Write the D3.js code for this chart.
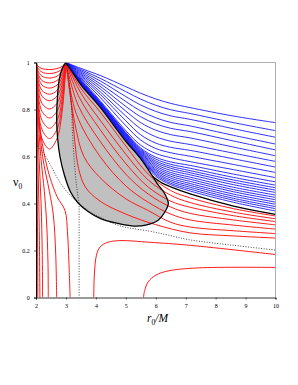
<!DOCTYPE html>
<html>
<head>
<meta charset="utf-8">
<title>r0 - v0 plane</title>
<style>
  body { margin: 0; background: #fff; }
  .tick text { font-family: "Liberation Serif", serif; font-size: 6px; }
</style>
</head>
<body>
<div id="chart"></div>
<script src="https://d3js.org/d3.v7.min.js"></script>
<script>
var xTicks = [2, 3, 4, 5, 6, 7, 8, 9, 10];
var yTicks = [0, 0.2, 0.4, 0.6, 0.8, 1];
var yTickLabels = ["0", "0.2", "0.4", "0.6", "0.8", "1"];

// r positions where the blue curves were read
var blueR = [3, 3.5, 4.14, 5, 5.5, 6, 6.5, 7.15, 8.6, 10];
// blue curves: v at each blueR, cusp (3,1) -> right edge
var blueV = [
  [1, 0.975, 0.945, 0.897, 0.869, 0.845, 0.826, 0.808, 0.772, 0.744],
  [1, 0.97, 0.933, 0.876, 0.844, 0.818, 0.799, 0.783, 0.744, 0.71],
  [1, 0.965, 0.922, 0.855, 0.819, 0.792, 0.773, 0.758, 0.718, 0.682],
  [1, 0.96, 0.91, 0.834, 0.794, 0.765, 0.745, 0.73, 0.69, 0.653],
  [1, 0.955, 0.899, 0.813, 0.769, 0.739, 0.72, 0.706, 0.666, 0.628],
  [1, 0.95, 0.888, 0.793, 0.744, 0.712, 0.693, 0.679, 0.64, 0.603],
  [1, 0.945, 0.876, 0.772, 0.718, 0.684, 0.665, 0.651, 0.614, 0.579],
  [1, 0.94, 0.865, 0.752, 0.692, 0.657, 0.639, 0.626, 0.59, 0.555],
  [1, 0.935, 0.852, 0.731, 0.67, 0.634, 0.616, 0.601, 0.566, 0.532],
  [1, 0.93, 0.838, 0.71, 0.648, 0.613, 0.595, 0.578, 0.544, 0.51],
  [1, 0.925, 0.833, 0.702, 0.636, 0.597, 0.577, 0.562, 0.525, 0.492],
  [1, 0.923, 0.831, 0.699, 0.631, 0.589, 0.567, 0.55, 0.511, 0.478],
  [1, 0.921, 0.829, 0.696, 0.627, 0.581, 0.558, 0.54, 0.5, 0.467],
  [1, 0.919, 0.827, 0.693, 0.623, 0.574, 0.55, 0.531, 0.49, 0.457],
  [1, 0.917, 0.825, 0.69, 0.619, 0.567, 0.541, 0.522, 0.48, 0.447],
  [1, 0.916, 0.823, 0.687, 0.615, 0.56, 0.532, 0.512, 0.469, 0.436],
  [1, 0.915, 0.822, 0.684, 0.611, 0.553, 0.524, 0.503, 0.459, 0.426],
  [1, 0.914, 0.82, 0.681, 0.607, 0.546, 0.516, 0.494, 0.45, 0.416],
  [1, 0.913, 0.819, 0.678, 0.603, 0.54, 0.508, 0.485, 0.44, 0.406],
  [1, 0.912, 0.818, 0.676, 0.6, 0.534, 0.5, 0.477, 0.431, 0.397],
  [1, 0.911, 0.817, 0.674, 0.597, 0.528, 0.493, 0.469, 0.422, 0.387],
  [1, 0.91, 0.816, 0.672, 0.594, 0.522, 0.486, 0.461, 0.414, 0.378],
  [1, 0.909, 0.815, 0.67, 0.591, 0.516, 0.48, 0.453, 0.405, 0.368]
];

// red curves: cusp (3,1) -> right edge, through the grey lobe
var redFromCusp = [
  [[3,1],[3.5,0.89],[4.14,0.79],[5,0.645],[5.75,0.525],[6.5,0.455],[7.15,0.424],[8.6,0.378],[10,0.347]],
  [[3,1],[3.5,0.87],[4.14,0.755],[5,0.61],[5.75,0.5],[6.5,0.435],[7.15,0.404],[8.6,0.363],[10,0.335]],
  [[3,1],[3.45,0.85],[4.14,0.715],[5,0.57],[5.75,0.47],[6.5,0.41],[7.15,0.384],[8.6,0.348],[10,0.323]],
  [[3,1],[3.4,0.82],[4.14,0.665],[5,0.525],[5.75,0.44],[6.5,0.385],[7.15,0.358],[8.6,0.33],[10,0.309]],
  [[3,1],[3.35,0.78],[4.14,0.6],[5,0.475],[5.75,0.405],[6.5,0.355],[7.15,0.33],[8.6,0.308],[10,0.291]],
  [[3,1],[3.3,0.74],[3.6,0.6],[4.14,0.51],[5,0.42],[5.75,0.37],[6.5,0.32],[7.15,0.3],[8.6,0.284],[10,0.272]],
  [[3,1],[3.2,0.8],[3.3,0.66],[3.42,0.55],[3.65,0.47],[4.14,0.41],[5,0.355],[6,0.31],[7.15,0.275],[8.6,0.262],[10,0.253]]
];

// red loops: top-left corner -> cusp
var redLoops = [
  [[2.01,1],[2.06,0.985],[2.2,0.974],[2.45,0.97],[2.7,0.974],[2.88,0.984],[3,1]],
  [[2.01,1],[2.06,0.977],[2.2,0.959],[2.45,0.953],[2.7,0.959],[2.88,0.974],[3,1]],
  [[2.01,1],[2.06,0.967],[2.2,0.942],[2.45,0.934],[2.7,0.942],[2.88,0.964],[3,1]],
  [[2.01,1],[2.06,0.957],[2.2,0.923],[2.45,0.913],[2.7,0.923],[2.88,0.952],[3,1]],
  [[2.01,1],[2.06,0.946],[2.2,0.904],[2.45,0.891],[2.7,0.904],[2.88,0.94],[3,1]],
  [[2.01,1],[2.06,0.933],[2.2,0.881],[2.45,0.865],[2.7,0.881],[2.88,0.926],[3,1]],
  [[2.01,1],[2.06,0.919],[2.2,0.857],[2.45,0.837],[2.7,0.857],[2.88,0.91],[3,1]],
  [[2.01,1],[2.06,0.901],[2.2,0.826],[2.45,0.802],[2.7,0.826],[2.88,0.891],[3,1]],
  [[2.01,1],[2.06,0.882],[2.2,0.792],[2.45,0.764],[2.7,0.792],[2.88,0.87],[3,1]],
  [[2.01,1],[2.06,0.86],[2.2,0.754],[2.45,0.72],[2.7,0.754],[2.88,0.846],[3,1]],
  [[2.01,1],[2.06,0.838],[2.2,0.715],[2.45,0.676],[2.7,0.715],[2.88,0.822],[3,1]],
  [[2.01,1],[2.06,0.816],[2.2,0.676],[2.45,0.632],[2.7,0.676],[2.88,0.798],[3,1]]
];

// red curves: top-left corner -> bottom axis
var redToAxis = [
  [[2.003,1],[2.015,0.8],[2.035,0.5],[2.055,0.2],[2.06,0]],
  [[2.005,1],[2.03,0.8],[2.07,0.55],[2.11,0.28],[2.13,0]],
  [[2.01,1],[2.04,0.8],[2.1,0.6],[2.17,0.4],[2.21,0.18],[2.22,0]],
  [[2.015,1],[2.06,0.8],[2.16,0.6],[2.28,0.45],[2.35,0.33],[2.4,0.15],[2.41,0]],
  [[2.02,1],[2.08,0.8],[2.22,0.6],[2.45,0.45],[2.58,0.35],[2.66,0.18],[2.69,0]],
  [[2.02,1],[2.1,0.76],[2.36,0.56],[2.7,0.43],[2.97,0.37],[3.05,0.28],[3.1,0.15],[3.14,0]]
];

// red curves: bottom axis -> right edge
var redFromAxis = [
  [[3.93,0],[3.95,0.1],[4.02,0.18],[4.14,0.215],[4.4,0.235],[4.8,0.242],[5.8,0.235],[7.15,0.222],[10,0.183]],
  [[5.59,0],[5.63,0.03],[5.75,0.067],[6,0.095],[6.41,0.113],[7.42,0.126],[10,0.128]]
];

// grey lobe outline
var lobeBoundary = [[3,1],[3.2,0.962],[3.5,0.905],[4.14,0.81],[5,0.665],[5.5,0.59],[5.9,0.515],[6.04,0.486],
  [6.26,0.45],[6.38,0.42],[6.42,0.4],[6.31,0.365],[6.09,0.33],[5.7,0.309],[5.25,0.304],[4.7,0.316],
  [4.14,0.337],[3.75,0.365],[3.4,0.403],[3.15,0.45],[2.95,0.52],[2.8,0.6],[2.72,0.68],[2.69,0.76],
  [2.72,0.86],[2.78,0.93],[2.88,0.975],[3,1]];

// black curve from the lobe to the right edge
var circularOrbit = [[5.9,0.515],[6.2,0.488],[6.5,0.471],[7.15,0.441],[8.6,0.389],[10,0.354]];

// dotted separatrix branches
var sepUp = [[3,1],[3.1,0.93],[3.18,0.82],[3.22,0.7],[3.28,0.58],[3.36,0.47],[3.44,0.4]];
var sepLeft = [[3.44,0.4],[3,0.455],[2.75,0.5],[2.5,0.56],[2.3,0.605],[2.15,0.63],[2.05,0.645]];
var sepRight = [[3.44,0.4],[3.8,0.365],[4.14,0.342],[4.8,0.305],[5.8,0.282],[6.4,0.266],[7.15,0.245],[8.6,0.222],[10,0.202]];
var sepDown = [[3.44,0.4],[3.44,0]];

var horizon = [[2,0],[2,1]];

var blueCurves = blueV.map(function(vs) {
  return vs.map(function(v, i) { return [blueR[i], v]; });
});

var width = 298, height = 385;
var svg = d3.select('#chart').append('svg')
  .attr('width', width)
  .attr('height', height);

var x = d3.scaleLinear().domain([2, 10]).range([36, 275.5]);
var y = d3.scaleLinear().domain([0, 1]).range([297.5, 62.5]);

svg.append('clipPath').attr('id', 'clip')
  .append('rect')
  .attr('x', x(2)).attr('y', y(1))
  .attr('width', x(10) - x(2)).attr('height', y(0) - y(1));

var line = d3.line()
  .x(function(d) { return x(d[0]); })
  .y(function(d) { return y(d[1]); })
  .curve(d3.curveCatmullRom.alpha(0.5));

var plot = svg.append('g').attr('clip-path', 'url(#clip)');

plot.append('path')
  .attr('d', line(lobeBoundary))
  .attr('fill', '#c0c0c0')
  .attr('stroke', 'none');

function drawSet(data, color, w) {
  plot.append('g').selectAll('path')
    .data(data)
    .enter()
    .append('path')
    .attr('d', line)
    .attr('fill', 'none')
    .attr('stroke', color)
    .attr('stroke-width', w);
}

drawSet(redLoops, '#ff1a1a', 1);
drawSet(redToAxis, '#ff1a1a', 1);
drawSet(redFromAxis, '#ff1a1a', 1);
drawSet(redFromCusp, '#ff1a1a', 1);
drawSet(blueCurves, '#1a1aff', 0.9);

plot.append('path')
  .attr('d', line(lobeBoundary))
  .attr('fill', 'none')
  .attr('stroke', '#000')
  .attr('stroke-width', 1.3);

plot.append('path')
  .attr('d', line(circularOrbit))
  .attr('fill', 'none')
  .attr('stroke', '#000')
  .attr('stroke-width', 1.3);

plot.append('g').selectAll('path')
  .data([sepUp, sepLeft, sepRight, sepDown])
  .enter()
  .append('path')
  .attr('d', line)
  .attr('fill', 'none')
  .attr('stroke', '#333')
  .attr('stroke-width', 0.9)
  .attr('stroke-dasharray', '1,1.6');

plot.append('path')
  .attr('d', line(horizon))
  .attr('stroke', '#000')
  .attr('stroke-width', 2.2);

// frame
svg.append('path')
  .attr('d', 'M' + x(2) + ',' + y(1) + 'H' + x(10) + 'V' + y(0))
  .attr('fill', 'none')
  .attr('stroke', '#999')
  .attr('stroke-width', 0.8);

var xAxis = svg.append('g')
  .attr('transform', 'translate(0,' + y(0) + ')')
  .call(d3.axisBottom(x).tickValues(xTicks).tickSize(2).tickFormat(d3.format('d')));
xAxis.select('.domain').attr('stroke', '#000').attr('stroke-width', 0.8);
xAxis.selectAll('.tick line').attr('stroke', '#000').attr('stroke-width', 0.6);
xAxis.selectAll('text').attr('dy', '0.9em').attr('fill', '#000');

var yAxis = svg.append('g')
  .attr('transform', 'translate(' + x(2) + ',0)')
  .call(d3.axisLeft(y).tickValues(yTicks).tickSize(2)
    .tickFormat(function(d, i) { return yTickLabels[i]; }));
yAxis.select('.domain').attr('stroke', '#000').attr('stroke-width', 0.8);
yAxis.selectAll('.tick line').attr('stroke', '#000').attr('stroke-width', 0.6);
yAxis.selectAll('text').attr('dx', '-0.2em').attr('fill', '#000');

// axis titles
var yLab = svg.append('text')
  .attr('x', 13).attr('y', 186)
  .attr('fill', '#000')
  .attr('font-family', '"Liberation Serif", serif')
  .attr('font-size', 12);
yLab.append('tspan').text('ν');
yLab.append('tspan').attr('font-size', 7.5).attr('dy', 3).text('0');

var xLab = svg.append('text')
  .attr('x', 147).attr('y', 322)
  .attr('fill', '#000')
  .attr('font-family', '"Liberation Serif", serif')
  .attr('font-size', 11.5);
xLab.append('tspan').attr('font-style', 'italic').text('r');
xLab.append('tspan').attr('font-size', 7.5).attr('dy', 3).text('0');
xLab.append('tspan').attr('dy', -3).attr('font-style', 'italic').text('/M');
</script>
</body>
</html>
